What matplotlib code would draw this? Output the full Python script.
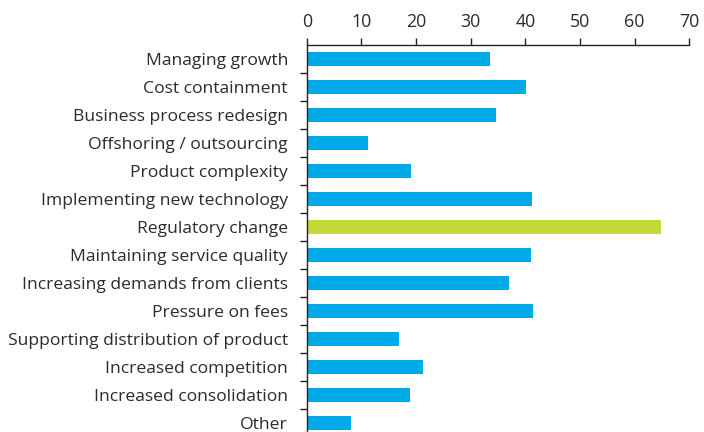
import matplotlib
matplotlib.use('Agg')
import matplotlib.pyplot as plt
import numpy as np

# values
categories = ['Managing growth', 'Cost containment', 'Business process redesign',
              'Offshoring / outsourcing', 'Product complexity',
              'Implementing new technology', 'Regulatory change',
              'Maintaining service quality', 'Increasing demands from clients',
              'Pressure on fees', 'Supporting distribution of product',
              'Increased competition', 'Increased consolidation', 'Other']
values = [33.5, 40.1, 34.6, 11.2, 19.1, 41.2, 64.8,
          41.0, 37.0, 41.4, 16.9, 21.3, 18.9, 8.1]
highlight = 'Regulatory change'
xticks = [0, 10, 20, 30, 40, 50, 60, 70]

blue = '#00aae7'
green = '#c4d837'
txt = '#2b2b2b'

plt.rcParams['font.family'] = ['Open Sans', 'DejaVu Sans']

fig = plt.figure(figsize=(7.04, 4.32), dpi=100)
ax = fig.add_axes([306.7/704, -5/432, (689.3-306.7)/704, 392/432])

y = np.arange(len(categories))
colors = [green if c == highlight else blue for c in categories]
ax.barh(y, values, height=0.52, color=colors)

ax.set_xlim(0, 70)
ax.set_ylim(len(categories) - 0.5, -0.5)
ax.set_xticks(xticks)
ax.xaxis.tick_top()
ax.tick_params(axis='x', direction='out', length=5, width=1, color='#222222',
               labelsize=12.8, labelcolor=txt, pad=5)

ax.set_yticks(y)
ax.set_yticklabels(categories)
ax.set_yticks(np.arange(len(categories)) + 0.5, minor=True)
ax.tick_params(axis='y', which='major', length=0, labelsize=12.6, labelcolor=txt, pad=13.5)
ax.tick_params(axis='y', which='minor', direction='out', length=5, width=1, color='#222222')

for s in ['right', 'bottom']:
    ax.spines[s].set_visible(False)
for s in ['top', 'left']:
    ax.spines[s].set_linewidth(1)
    ax.spines[s].set_color('#222222')

fig.savefig('out.png', dpi=100)
